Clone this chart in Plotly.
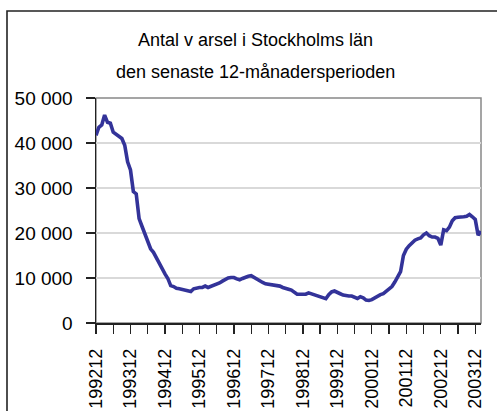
import plotly.graph_objects as go

# Monthly categories 199212 .. 200402
months = [f"{1992 + (11 + i)//12}{((11 + i) % 12) + 1:02d}" for i in range(135)]

varsel = [
    41700, 43500, 44000, 46200, 44600, 44400, 42400, 41900, 41600, 41000,
    39500, 35800, 34000, 29200, 28700, 23200, 21500, 19900, 17800, 16500,
    15700, 14500, 13000, 11900, 10900, 9900, 8300, 8100, 7700, 7600,
    7400, 7300, 7200, 7000, 7600, 7800, 7900, 7900, 8200, 7900,
    8100, 8300, 8500, 8900, 9300, 9700, 10000, 10100, 10100, 9800,
    9600, 9900, 10200, 10400, 10500, 10100, 9600, 9400, 9000, 8700,
    8600, 8500, 8500, 8400, 8200, 7900, 7800, 7500, 7300, 6800,
    6400, 6400, 6400, 6400, 6700, 6500, 6100, 5900, 5800, 5700,
    5400, 6300, 6900, 7100, 6900, 6500, 6200, 6000, 6000, 6000,
    5700, 5450, 5850, 5600, 5100, 5000, 5200, 5600, 6000, 6300,
    6500, 7000, 7400, 8100, 9100, 10400, 11400, 15000, 16400, 17200,
    17800, 18400, 18700, 18900, 19600, 20000, 19400, 19100, 19100, 18800,
    17300, 20700, 20500, 21300, 22700, 23400, 23500, 23500, 23600, 23700,
    24100, 23600, 23000, 19500, 20400,
]

year_labels = ["199212", "199312", "199412", "199512", "199612", "199712",
               "199812", "199912", "200012", "200112", "200212", "200312"]
y_ticks = [0, 10000, 20000, 30000, 40000, 50000]
y_labels = ["0", "10 000", "20 000", "30 000", "40 000", "50 000"]
title_lines = ["Antal v arsel i Stockholms län",
               "den senaste 12-månadersperioden"]

x_tickvals = months[::6]
x_ticktext = [m if m in year_labels else "" for m in x_tickvals]

FONT = "Liberation Sans, Arial, sans-serif"

# plot area in pixels
L, R, T, B = 96, 481, 98, 323
W, H = 497, 411
pw, ph = R - L, B - T

def px_x(px):
    return (px - L) / pw

def px_y(py):
    return (B - py) / ph

fig = go.Figure()
fig.add_trace(go.Scatter(
    x=months, y=varsel, mode="lines",
    line=dict(color="#333399", width=3.6),
    hoverinfo="skip", showlegend=False,
))

fig.update_layout(
    width=W, height=H,
    margin=dict(l=L, r=W - R, t=T, b=H - B, pad=0),
    paper_bgcolor="white", plot_bgcolor="white",
    font=dict(family=FONT, color="black"),
    showlegend=False,
)

fig.update_xaxes(
    type="category", range=[0, 134],
    tickmode="array", tickvals=x_tickvals, ticktext=x_ticktext,
    tickangle=-90, tickfont=dict(size=18, family=FONT, color="black"),
    ticks="outside", ticklen=9, tickwidth=1.3, tickcolor="#222",
    showline=True, linecolor="#222", linewidth=1.5,
    showgrid=False, zeroline=False, automargin=False,
    ticklabelstandoff=8,
)
fig.update_yaxes(
    range=[0, 50000],
    tickmode="array", tickvals=y_ticks, ticktext=y_labels,
    tickfont=dict(size=19, family=FONT, color="black"),
    ticks="outside", ticklen=9, tickwidth=1.3, tickcolor="#222",
    showline=True, linecolor="#222", linewidth=1.5,
    showgrid=True, gridcolor="#d9d9d9", gridwidth=1.5,
    zeroline=False, automargin=False, ticklabelstandoff=9,
)

# plot-area border (gray, top/right) and outer chart border
fig.add_shape(type="rect", xref="paper", yref="paper",
              x0=0, x1=1, y0=0, y1=1,
              line=dict(color="#888", width=1.5), layer="below")
fig.add_shape(type="rect", xref="paper", yref="paper",
              x0=px_x(7), x1=px_x(505), y0=px_y(420), y1=px_y(11),
              line=dict(color="#222", width=1.6), layer="below")

fig.add_annotation(text=title_lines[0], xref="paper", yref="paper",
                   x=px_x(255), y=px_y(40), showarrow=False,
                   xanchor="center", yanchor="middle",
                   font=dict(size=18, family=FONT, color="black"))
fig.add_annotation(text=title_lines[1], xref="paper", yref="paper",
                   x=px_x(255), y=px_y(72), showarrow=False,
                   xanchor="center", yanchor="middle",
                   font=dict(size=18, family=FONT, color="black"))

fig.write_html(
    "out.html",
    config={"displayModeBar": False, "staticPlot": True},
    post_script="document.body.style.margin='0';document.body.style.overflow='hidden';",
)
